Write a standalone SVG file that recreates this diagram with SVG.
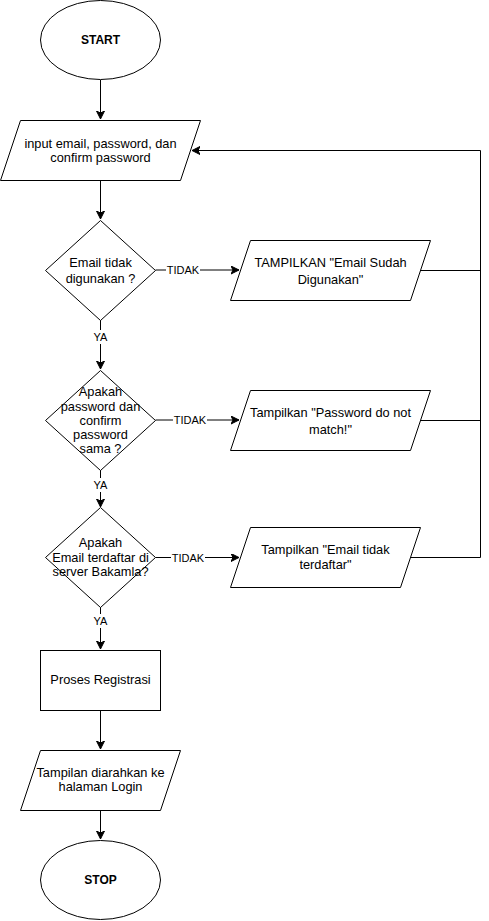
<svg xmlns="http://www.w3.org/2000/svg" width="489" height="921" viewBox="0 0 489 921">
<style>
.s{fill:#fff;stroke:#000;stroke-width:1}
.t{font-family:"Liberation Sans",Arial,sans-serif;font-size:12.8px;fill:#000;text-anchor:middle}
.b{font-weight:bold;font-size:12px}
.l{font-family:"Liberation Sans",Arial,sans-serif;font-size:11px;fill:#000;text-anchor:middle}
.c{fill:none;stroke:#000;stroke-width:1}
.bg{fill:#fff}
</style>
<defs>
<marker id="a" markerUnits="userSpaceOnUse" markerWidth="10" markerHeight="10" refX="8" refY="4" orient="auto">
<path d="M0,0 L8,4 L0,8 L2,4 Z" fill="#000" stroke="#000" stroke-width="1"/>
</marker>
</defs>
<rect width="489" height="921" fill="#fff"/>
<g id="connectors">
<path class="c" d="M100.5,80 V119" marker-end="url(#a)"/>
<path class="c" d="M100.5,180 V219" marker-end="url(#a)"/>
<path class="c" d="M155.5,270 H239" marker-end="url(#a)"/>
<path class="c" d="M100.5,320 V369" marker-end="url(#a)"/>
<path class="c" d="M155.5,420 H239" marker-end="url(#a)"/>
<path class="c" d="M100.5,470 V507" marker-end="url(#a)"/>
<path class="c" d="M155.5,557.5 H239" marker-end="url(#a)"/>
<path class="c" d="M100.5,607 V649" marker-end="url(#a)"/>
<path class="c" d="M100.5,710 V749" marker-end="url(#a)"/>
<path class="c" d="M100.5,810 V839" marker-end="url(#a)"/>
<path class="c" d="M420,270.5 H480.5"/>
<path class="c" d="M420,420.5 H480.5"/>
<path class="c" d="M410,557.5 H480.5 V150.5 H192" marker-end="url(#a)"/>
<rect class="bg" x="166" y="263" width="34" height="14"/>
<text class="l" x="183" y="274">TIDAK</text>
<rect class="bg" x="173" y="413" width="34" height="14"/>
<text class="l" x="190" y="424">TIDAK</text>
<rect class="bg" x="171" y="551" width="34" height="14"/>
<text class="l" x="188" y="562">TIDAK</text>
<rect class="bg" x="92" y="330" width="17" height="14"/>
<text class="l" x="100.5" y="341">YA</text>
<rect class="bg" x="92" y="478" width="17" height="14"/>
<text class="l" x="100.5" y="489">YA</text>
<rect class="bg" x="92" y="614" width="17" height="14"/>
<text class="l" x="100.5" y="625">YA</text>
</g>
<g id="start">
<ellipse class="s" cx="100.5" cy="40" rx="60" ry="39.5"/>
<text class="t b" x="100.5" y="44">START</text>
</g>
<g id="input">
<path class="s" d="M20.5,120.5 H200.5 L180.5,180.5 H0.5 Z"/>
<text class="t" x="100.5" y="148">input email, password, dan</text>
<text class="t" x="100.5" y="162">confirm password</text>
</g>
<g id="cek-email">
<path class="s" d="M100.5,220.5 L155.5,270.5 L100.5,320.5 L45.5,270.5 Z"/>
<text class="t" x="100.5" y="267">Email tidak</text>
<text class="t" x="100.5" y="283">digunakan ?</text>
</g>
<g id="email-digunakan">
<path class="s" d="M250.5,240.5 H430.5 L410.5,300.5 H230.5 Z"/>
<text class="t" x="330.5" y="267">TAMPILKAN "Email Sudah</text>
<text class="t" x="330.5" y="284">Digunakan"</text>
</g>
<g id="cek-password">
<path class="s" d="M100.5,370.5 L155.5,420.5 L100.5,470.5 L45.5,420.5 Z"/>
<text class="t" x="100.5" y="396">Apakah</text>
<text class="t" x="100.5" y="411">password dan</text>
<text class="t" x="100.5" y="425">confirm</text>
<text class="t" x="100.5" y="439">password</text>
<text class="t" x="100.5" y="453">sama ?</text>
</g>
<g id="password-tidak-cocok">
<path class="s" d="M250.5,390.5 H430.5 L410.5,450.5 H230.5 Z"/>
<text class="t" x="330.5" y="417">Tampilkan "Password do not</text>
<text class="t" x="330.5" y="434">match!"</text>
</g>
<g id="cek-server">
<path class="s" d="M100.5,507.5 L155.5,557.5 L100.5,607.5 L45.5,557.5 Z"/>
<text class="t" x="100.5" y="547">Apakah</text>
<text class="t" x="100.5" y="562">Email terdaftar di</text>
<text class="t" x="100.5" y="576">server Bakamla?</text>
</g>
<g id="email-tidak-terdaftar">
<path class="s" d="M250.5,527.5 H420.5 L400.5,587.5 H230.5 Z"/>
<text class="t" x="325.5" y="554">Tampilkan "Email tidak</text>
<text class="t" x="325.5" y="569">terdaftar"</text>
</g>
<g id="registrasi">
<rect class="s" x="40.5" y="650.5" width="120" height="60"/>
<text class="t" x="100.5" y="684">Proses Registrasi</text>
</g>
<g id="login">
<path class="s" d="M40.5,750.5 H180.5 L160.5,810.5 H20.5 Z"/>
<text class="t" x="100.5" y="777">Tampilan diarahkan ke</text>
<text class="t" x="100.5" y="791">halaman Login</text>
</g>
<g id="stop">
<ellipse class="s" cx="100.5" cy="880" rx="60" ry="39.5"/>
<text class="t b" x="100.5" y="884">STOP</text>
</g>
</svg>
